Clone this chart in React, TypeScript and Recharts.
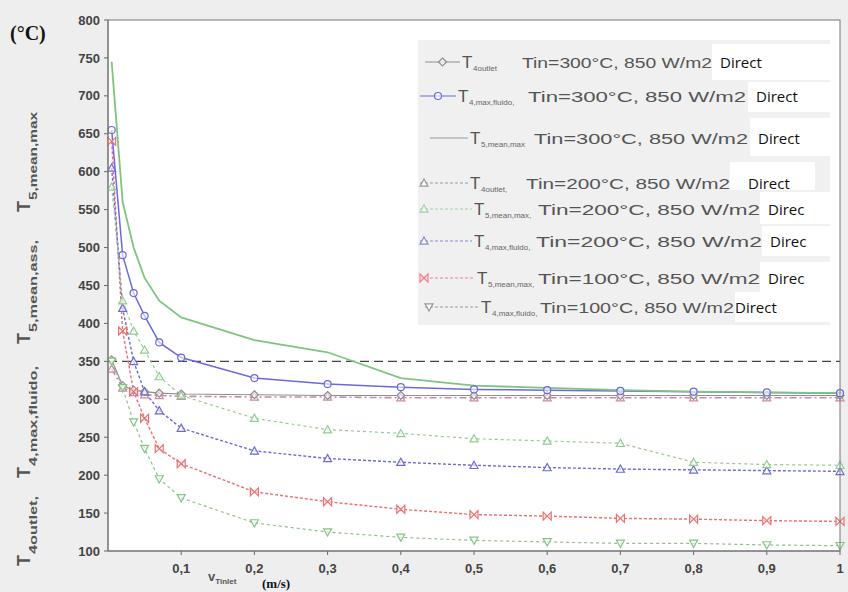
import React from 'react';
import { LineChart, Line, XAxis, YAxis, CartesianGrid, ReferenceLine } from 'recharts';

const vInlet = [0.005, 0.02, 0.035, 0.05, 0.07, 0.1, 0.2, 0.3, 0.4, 0.5, 0.6, 0.7, 0.8, 0.9, 1];
const t4Outlet300 = [352, 318, 312, 310, 308, 307, 306, 305, 305, 305, 305, 305, 305, 305, 305];
const t4MaxFluido300 = [655, 490, 440, 410, 375, 355, 328, 320, 316, 313, 312, 311, 310, 309, 308];
const t5MeanMax300 = [745, 560, 500, 460, 430, 408, 378, 362, 328, 318, 315, 312, 310, 309, 308];
const t4Outlet200 = [340, 315, 309, 306, 305, 304, 303, 303, 302, 302, 302, 302, 302, 302, 302];
const t5MeanMax200 = [580, 430, 390, 365, 330, 305, 275, 260, 255, 248, 245, 242, 217, 214, 213];
const t4MaxFluido200 = [605, 420, 350, 310, 285, 262, 232, 222, 217, 213, 210, 208, 207, 206, 205];
const t5MeanMax100 = [640, 390, 310, 275, 235, 215, 178, 165, 155, 148, 146, 143, 142, 140, 139];
const t4MaxFluido100 = [350, 315, 270, 235, 195, 170, 137, 125, 118, 114, 112, 110, 110, 108, 107];

const limitLine = 350;
const xTicks = [0.1, 0.2, 0.3, 0.4, 0.5, 0.6, 0.7, 0.8, 0.9, 1];
const yTicks = [100, 150, 200, 250, 300, 350, 400, 450, 500, 550, 600, 650, 700, 750, 800];

const data = vInlet.map((v, i) => ({
  v,
  t4Outlet300: t4Outlet300[i],
  t4MaxFluido300: t4MaxFluido300[i],
  t5MeanMax300: t5MeanMax300[i],
  t4Outlet200: t4Outlet200[i],
  t5MeanMax200: t5MeanMax200[i],
  t4MaxFluido200: t4MaxFluido200[i],
  t5MeanMax100: t5MeanMax100[i],
  t4MaxFluido100: t4MaxFluido100[i],
}));

type Shape = 'diamond' | 'circle' | 'line' | 'triangle' | 'invTriangle' | 'bowtie';

function Marker({ shape, x, y, color }: { shape: Shape; x: number; y: number; color: string }) {
  const r = 4;
  const common = { fill: 'white', fillOpacity: 0.6, stroke: color, strokeWidth: 1.2 };
  switch (shape) {
    case 'diamond':
      return <path d={`M${x},${y - r}L${x + r},${y}L${x},${y + r}L${x - r},${y}Z`} {...common} />;
    case 'circle':
      return <circle cx={x} cy={y} r={r - 0.5} {...common} />;
    case 'triangle':
      return <path d={`M${x},${y - r}L${x + r},${y + r * 0.8}L${x - r},${y + r * 0.8}Z`} {...common} />;
    case 'invTriangle':
      return <path d={`M${x},${y + r}L${x + r},${y - r * 0.8}L${x - r},${y - r * 0.8}Z`} {...common} />;
    case 'bowtie':
      return <path d={`M${x - r},${y - r}L${x + r},${y + r}L${x + r},${y - r}L${x - r},${y + r}Z`} {...common} />;
    default:
      return <g />;
  }
}

const makeDot = (shape: Shape, color: string) => (props: any) => {
  const { cx, cy, index } = props;
  if (cx == null || cy == null) return <g key={index} />;
  return (
    <g key={index}>
      <Marker shape={shape} x={cx} y={cy} color={color} />
    </g>
  );
};

const series: { key: string; color: string; shape: Shape; dash?: string; width: number }[] = [
  { key: 't4Outlet200', color: '#c98aa6', shape: 'triangle', dash: '7 3 2 3', width: 1.6 },
  { key: 't4Outlet300', color: '#8f8f8f', shape: 'diamond', width: 1.2 },
  { key: 't4MaxFluido100', color: '#86c486', shape: 'invTriangle', dash: '3 3', width: 1.2 },
  { key: 't5MeanMax100', color: '#ee6f6f', shape: 'bowtie', dash: '3 2', width: 1.4 },
  { key: 't4MaxFluido200', color: '#6b6bd6', shape: 'triangle', dash: '3 2', width: 1.4 },
  { key: 't5MeanMax200', color: '#92cc92', shape: 'triangle', dash: '3 3', width: 1.2 },
  { key: 't4MaxFluido300', color: '#6a6ae0', shape: 'circle', width: 1.5 },
  { key: 't5MeanMax300', color: '#7fc47f', shape: 'line', width: 1.8 },
];

// legend rows: sample line, label "T" + subscript, condition text fitted to width, white "Direct" patch
const legendRows = [
  { y: 62, x1: 425, x2: 460, color: '#8f8f8f', shape: 'diamond' as Shape, tx: 462, sub: '4outlet', tin: 'Tin=300°C, 850 W/m2', tinX: 522, tinLen: 190, box: [712, 44, 118, 36], dx: 720, direct: 'Direct' },
  { y: 96, x1: 420, x2: 456, color: '#6a6ae0', shape: 'circle' as Shape, tx: 458, sub: '4,max,fluido,', tin: 'Tin=300°C, 850 W/m2', tinX: 528, tinLen: 218, box: [748, 82, 82, 30], dx: 756, direct: 'Direct' },
  { y: 138, x1: 430, x2: 468, color: '#9a9a9a', shape: 'line' as Shape, tx: 470, sub: '5,mean,max', tin: 'Tin=300°C, 850 W/m2', tinX: 534, tinLen: 214, box: [750, 118, 80, 38], dx: 758, direct: 'Direct' },
  { y: 183, x1: 420, x2: 468, color: '#9a9a9a', shape: 'triangle' as Shape, tx: 470, sub: '4outlet,', tin: 'Tin=200°C, 850 W/m2', tinX: 526, tinLen: 204, box: [730, 162, 85, 28], dx: 748, direct: 'Direct', dash: true },
  { y: 209, x1: 420, x2: 472, color: '#a6cfa6', shape: 'triangle' as Shape, tx: 474, sub: '5,mean,max,', tin: 'Tin=200°C, 850 W/m2', tinX: 538, tinLen: 222, box: [760, 192, 70, 32], dx: 768, direct: 'Direc', dash: true },
  { y: 241, x1: 420, x2: 472, color: '#8a8ad8', shape: 'triangle' as Shape, tx: 474, sub: '4,max,fluido,', tin: 'Tin=200°C, 850 W/m2', tinX: 536, tinLen: 226, box: [762, 226, 68, 30], dx: 770, direct: 'Direc', dash: true },
  { y: 278, x1: 420, x2: 475, color: '#ee7f8f', shape: 'bowtie' as Shape, tx: 477, sub: '5,mean,max,', tin: 'Tin=100°C, 850 W/m2', tinX: 538, tinLen: 222, box: [760, 262, 70, 32], dx: 768, direct: 'Direc', dash: true },
  { y: 307, x1: 425, x2: 478, color: '#9a9a9a', shape: 'invTriangle' as Shape, tx: 481, sub: '4,max,fluido,', tin: 'Tin=100°C, 850 W/m2', tinX: 540, tinLen: 194, box: [735, 292, 95, 30], dx: 735, direct: 'Direct', dash: true },
];

// rotated y title groups: bottom position of each "T" and subscript length
const yTitleParts = [
  { sub: '4outlet,', y: 566, len: 58 },
  { sub: '4,max,fluido,', y: 478, len: 100 },
  { sub: '5,mean,ass,', y: 344, len: 92 },
  { sub: '5,mean,max', y: 212, len: 88 },
];

export default function App() {
  return (
    <div style={{ position: 'fixed', left: 0, top: 0, width: 848, height: 592, background: '#eeeeee', fontFamily: 'Arial, "Liberation Sans", sans-serif' }}>
      <LineChart width={848} height={592} data={data} margin={{ top: 20, right: 8, bottom: 14, left: 60 }}>
        <CartesianGrid horizontal={false} vertical={false} fill="#ffffff" />
        <XAxis
          type="number"
          dataKey="v"
          domain={[0, 1]}
          ticks={xTicks}
          tickFormatter={(v: number) => String(v).replace('.', ',')}
          tick={{ fontSize: 13, fontWeight: 700, fill: '#444' }}
          stroke="#666"
          tickSize={4}
          tickMargin={9}
          height={27}
        />
        <YAxis
          type="number"
          domain={[100, 800]}
          ticks={yTicks}
          interval={0}
          tick={{ fontSize: 13, fontWeight: 700, fill: '#444' }}
          stroke="#666"
          tickSize={4}
          tickMargin={4}
          width={48}
        />
        <ReferenceLine y={limitLine} stroke="#444" strokeDasharray="9 5" strokeWidth={1.2} />
        {series.map((s) => (
          <Line
            key={s.key}
            type="linear"
            dataKey={s.key}
            stroke={s.color}
            strokeWidth={s.width}
            strokeDasharray={s.dash}
            dot={makeDot(s.shape, s.color)}
            activeDot={false}
            isAnimationActive={false}
          />
        ))}
      </LineChart>

      <svg width={848} height={592} style={{ position: 'absolute', left: 0, top: 0, pointerEvents: 'none' }}>
        <rect x={108} y={20} width={732} height={531} fill="none" stroke="#777" strokeWidth={1} />
        <text x={10} y={40} fontFamily='"Liberation Serif", "Times New Roman", serif' fontWeight={700} fontSize={20} fill="#111">(°C)</text>
        {yTitleParts.map((p, i) => (
          <g key={i} transform={`translate(30,${p.y}) rotate(-90)`}>
            <text x={0} y={0} fontWeight={700} fontSize={18} fill="#555">T</text>
            <text x={12} y={7} fontWeight={700} fontSize={10} fill="#555" textLength={p.len} lengthAdjust="spacingAndGlyphs">{p.sub}</text>
          </g>
        ))}
        <text x={208} y={581} fontWeight={700} fontSize={13} fill="#555">
          <tspan>v</tspan><tspan fontSize={8} dy={3}>Tinlet</tspan>
        </text>
        <text x={262} y={588} fontFamily='"Liberation Serif", "Times New Roman", serif' fontWeight={700} fontSize={13} fill="#111">(m/s)</text>

        <rect x={418} y={40} width={412} height={285} fill="#f0f0f0" />
        {legendRows.map((r, i) => (
          <g key={i}>
            <line x1={r.x1} x2={r.x2} y1={r.y} y2={r.y} stroke={r.color} strokeWidth={1.2} strokeDasharray={r.dash ? '3 2' : undefined} />
            <Marker shape={r.shape} x={r.dash ? r.x1 + 4 : (r.x1 + r.x2) / 2} y={r.y} color={r.color} />
            <text x={r.tx} y={r.y + 6} fontSize={17} fill="#555">T</text>
            <text x={r.tx + 11} y={r.y + 9} fontSize={8} fill="#666">{r.sub}</text>
            <text x={r.tinX} y={r.y + 6} fontSize={14.5} fill="#555" textLength={r.tinLen} lengthAdjust="spacingAndGlyphs">{r.tin}</text>
            <rect x={r.box[0]} y={r.box[1]} width={r.box[2]} height={r.box[3]} fill="#ffffff" />
            <text x={r.dx} y={r.y + 6} fontFamily='"Open Sans", "Noto Sans", sans-serif' fontSize={15} fill="#111">{r.direct}</text>
          </g>
        ))}
      </svg>
    </div>
  );
}
